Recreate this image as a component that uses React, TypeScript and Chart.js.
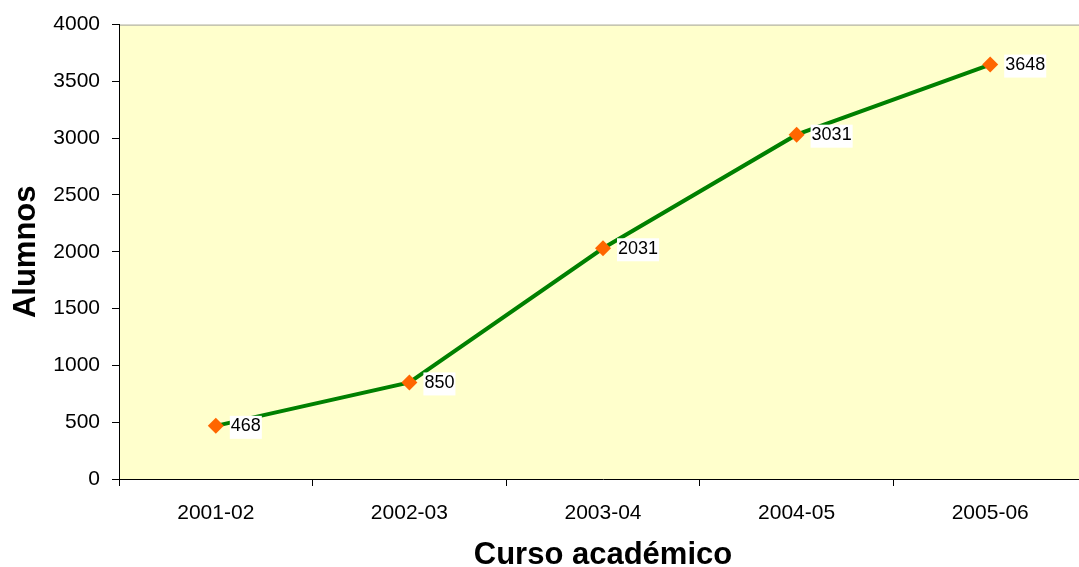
import React, { useEffect, useRef } from "react";
import { Chart, registerables } from "chart.js";

Chart.register(...registerables);

const categories = ["2001-02", "2002-03", "2003-04", "2004-05", "2005-06"];
const alumnos = [468, 850, 2031, 3031, 3648];
const yTicks = [0, 500, 1000, 1500, 2000, 2500, 3000, 3500, 4000];

const FONT = "Arial, 'Liberation Sans', sans-serif";

const bgPlugin = {
  id: "plotBg",
  beforeDraw(chart: any) {
    const { ctx, chartArea } = chart;
    ctx.save();
    ctx.fillStyle = "#FFFFCC";
    ctx.fillRect(chartArea.left, chartArea.top, chartArea.right - chartArea.left, chartArea.bottom - chartArea.top);
    ctx.strokeStyle = "#A0A0A0";
    ctx.lineWidth = 1;
    ctx.beginPath();
    ctx.moveTo(chartArea.left, chartArea.top + 0.5);
    ctx.lineTo(chartArea.right, chartArea.top + 0.5);
    ctx.stroke();
    ctx.restore();
  },
};

const labelPlugin = {
  id: "valueLabels",
  afterDatasetsDraw(chart: any) {
    const { ctx } = chart;
    const meta = chart.getDatasetMeta(0);
    ctx.save();
    ctx.font = `18px ${FONT}`;
    ctx.textBaseline = "middle";
    ctx.textAlign = "left";
    meta.data.forEach((pt: any, i: number) => {
      const text = String(alumnos[i]);
      const w = ctx.measureText(text).width;
      const x = pt.x + 15;
      const y = pt.y;
      ctx.fillStyle = "#FFFFFF";
      ctx.fillRect(x - 1, y - 10, w + 2, 23);
      ctx.fillStyle = "#000000";
      ctx.fillText(text, x, y + 0.5);
    });
    ctx.restore();
  },
};

export default function App() {
  const ref = useRef<HTMLCanvasElement>(null);
  useEffect(() => {
    document.body.style.overflow = "hidden";
    const chart = new Chart(ref.current as HTMLCanvasElement, {
      type: "line",
      data: {
        labels: categories,
        datasets: [
          {
            data: alumnos,
            borderColor: "#008000",
            borderWidth: 4,
            pointStyle: "rectRot",
            pointRadius: 8,
            pointBackgroundColor: "#FF6600",
            pointBorderColor: "#FF6600",
            pointBorderWidth: 0,
            tension: 0,
          },
        ],
      },
      options: {
        responsive: false,
        animation: false,
        layout: { padding: { top: 22, right: 6, left: 0, bottom: 0 } },
        plugins: { legend: { display: false }, tooltip: { enabled: false } },
        scales: {
          x: {
            offset: true,
            grid: { offset: true, drawOnChartArea: false, tickLength: 7, color: "#000000", tickColor: "#000000" },
            border: { color: "#000000", width: 1 },
            ticks: { color: "#000000", font: { family: FONT, size: 21 }, padding: 15 },
            title: {
              display: true,
              text: "Curso académico",
              color: "#000000",
              padding: { top: 0, bottom: -7 },
              font: { family: FONT, size: 31, weight: "bold" },
            },
            afterFit(scale: any) {
              scale.height = 88;
            },
          },
          y: {
            min: 0,
            max: 4000,
            afterBuildTicks(scale: any) {
              scale.ticks = yTicks.map((v) => ({ value: v }));
            },
            grid: { drawOnChartArea: false, tickLength: 7, color: "#000000", tickColor: "#000000" },
            border: { color: "#000000", width: 1 },
            ticks: {
              color: "#000000",
              font: { family: FONT, size: 21 },
              padding: 12,
              callback: (v: any) => String(v),
            },
            title: {
              display: true,
              text: "Alumnos",
              color: "#000000",
              padding: { top: 8, bottom: 0 },
              font: { family: FONT, size: 31, weight: "bold" },
            },
            afterFit(scale: any) {
              scale.width = 119;
            },
          },
        },
      },
      plugins: [bgPlugin, labelPlugin],
    });
    return () => chart.destroy();
  }, []);
  return (
    <div style={{ position: "fixed", left: 0, top: 0, width: 1079, height: 567, overflow: "hidden", background: "#fff" }}>
      <canvas ref={ref} width={1095} height={567} style={{ display: "block" }} />
    </div>
  );
}
